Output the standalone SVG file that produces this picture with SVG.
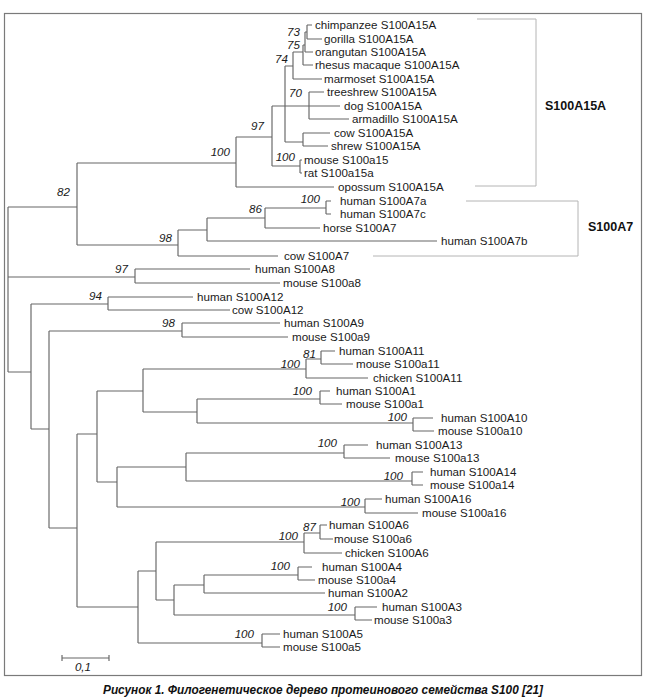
<svg xmlns="http://www.w3.org/2000/svg" width="658" height="700" viewBox="0 0 658 700">
<style>
.br{fill:none;stroke:#666;stroke-width:1.15}
.bk{fill:none;stroke:#b4b4b4;stroke-width:1}
.lf{font-family:"Liberation Sans",Arial,sans-serif;font-size:11.6px;fill:#1a1a1a}
.bs{font-family:"Liberation Sans",Arial,sans-serif;font-size:11.6px;font-style:italic;fill:#1a1a1a;text-anchor:end}
.gl{font-family:"Liberation Sans",Arial,sans-serif;font-size:12.5px;font-weight:bold;fill:#111}
.cap{font-family:"Liberation Sans",Arial,sans-serif;font-size:13px;font-weight:bold;font-style:italic;fill:#111}
</style>
<rect x="0" y="0" width="658" height="700" fill="#fff"/>
<rect x="4.5" y="13.5" width="637" height="662" fill="none" stroke="#7a7a7a" stroke-width="1.2"/>
<g id="connectors">
<path class="br" d="M8,207V372 M8,207H77 M8,277H135 M8,372H31
M77,163V245 M77,163H236 M77,245H178
M236,137V187 M236,137H272 M236,187H334
M272,106V166 M272,106H285 M272,166H300
M300,160V173 M300,160H302 M300,173H302
M285,66V142 M285,66H293 M285,106H309 M285,142H303
M293,52V79 M293,52H303 M293,79H322
M303,45V65 M303,45H305 M303,65H313
M305,32V52 M305,32H307 M305,52H313
M307,25V39 M307,25H312 M307,39H322
M309,92V119 M309,92H324 M309,106H340 M309,119H349
M303,133V146 M303,133H330 M303,146H328
M178,230V256 M178,230H207 M178,256H278
M207,218V241 M207,218H265 M207,241H437
M265,208V228 M265,208H326 M265,228H320
M326,201V214 M326,201H331 M326,214H331
M135,269V283 M135,269H250 M135,283H280
M31,304V429 M31,304H108 M31,429H49
M108,297V310 M108,297H193 M108,310H230
M49,331V528 M49,331H182 M49,528H77
M182,323V337 M182,323H280 M182,337H288
M77,434V607 M77,434H97 M77,607H138
M97,391V482 M97,391H143 M97,482H117
M143,369V412 M143,369H306 M143,412H197
M306,359V378 M306,359H321 M306,378H368
M321,351V364 M321,351H335 M321,364H353
M197,399V423 M197,399H320 M197,423H413
M320,391V404 M320,391H330 M320,404H342
M413,418V431 M413,418H433 M413,431H434
M117,467V507 M117,467H186 M117,507H365
M186,453V481 M186,453H344 M186,481H412
M344,445V458 M344,445H368 M344,458H390
M412,472V485 M412,472H423 M412,485H423
M365,499V513 M365,499H382 M365,513H418
M138,571V643 M138,571H156 M138,643H262
M156,542V600 M156,542H304 M156,600H174
M304,533V553 M304,533H320 M304,553H342
M320,525V539 M320,525H327 M320,539H333
M174,585V615 M174,585H204 M174,615H355
M204,575V593 M204,575H298 M204,593H325
M298,567V580 M298,567H312 M298,580H315
M355,607V620 M355,607H377 M355,620H372
M262,634V647 M262,634H280 M262,647H280"/>
<path class="bk" d="M477,19H536V186H475 M466,201H578V256H373"/>
<path class="br" d="M62,658H109 M62,655V661 M109,655V661"/>
</g>
<g id="leaves" class="lf">
<g id="l0"><text x="315" y="29">chimpanzee S100A15A</text></g>
<g id="l1"><text x="324" y="43">gorilla S100A15A</text></g>
<g id="l2"><text x="315" y="56">orangutan S100A15A</text></g>
<g id="l3"><text x="315" y="69">rhesus macaque S100A15A</text></g>
<g id="l4"><text x="324" y="83">marmoset S100A15A</text></g>
<g id="l5"><text x="327" y="96">treeshrew S100A15A</text></g>
<g id="l6"><text x="344" y="110">dog S100A15A</text></g>
<g id="l7"><text x="352" y="123">armadillo S100A15A</text></g>
<g id="l8"><text x="334" y="137">cow S100A15A</text></g>
<g id="l9"><text x="331" y="150">shrew S100A15A</text></g>
<g id="l10"><text x="304" y="164">mouse S100a15</text></g>
<g id="l11"><text x="304" y="177">rat S100a15a</text></g>
<g id="l12"><text x="338" y="191">opossum S100A15A</text></g>
<g id="l13"><text x="340" y="205">human S100A7a</text></g>
<g id="l14"><text x="340" y="218">human S100A7c</text></g>
<g id="l15"><text x="323" y="232">horse S100A7</text></g>
<g id="l16"><text x="441" y="245">human S100A7b</text></g>
<g id="l17"><text x="284" y="260">cow S100A7</text></g>
<g id="l18"><text x="255" y="273">human S100A8</text></g>
<g id="l19"><text x="283" y="287">mouse S100a8</text></g>
<g id="l20"><text x="197" y="301">human S100A12</text></g>
<g id="l21"><text x="232" y="314">cow S100A12</text></g>
<g id="l22"><text x="284" y="327">human S100A9</text></g>
<g id="l23"><text x="292" y="341">mouse S100a9</text></g>
<g id="l24"><text x="339" y="355">human S100A11</text></g>
<g id="l25"><text x="356" y="368">mouse S100a11</text></g>
<g id="l26"><text x="373" y="382">chicken S100A11</text></g>
<g id="l27"><text x="336" y="395">human S100A1</text></g>
<g id="l28"><text x="346" y="408">mouse S100a1</text></g>
<g id="l29"><text x="441" y="422">human S100A10</text></g>
<g id="l30"><text x="438" y="435">mouse S100a10</text></g>
<g id="l31"><text x="376" y="449">human S100A13</text></g>
<g id="l32"><text x="395" y="462">mouse S100a13</text></g>
<g id="l33"><text x="430" y="476">human S100A14</text></g>
<g id="l34"><text x="430" y="489">mouse S100a14</text></g>
<g id="l35"><text x="385" y="503">human S100A16</text></g>
<g id="l36"><text x="422" y="517">mouse S100a16</text></g>
<g id="l37"><text x="329" y="529">human S100A6</text></g>
<g id="l38"><text x="334" y="543">mouse S100a6</text></g>
<g id="l39"><text x="345" y="557">chicken S100A6</text></g>
<g id="l40"><text x="322" y="571">human S100A4</text></g>
<g id="l41"><text x="318" y="584">mouse S100a4</text></g>
<g id="l42"><text x="328" y="597">human S100A2</text></g>
<g id="l43"><text x="382" y="611">human S100A3</text></g>
<g id="l44"><text x="374" y="624">mouse S100a3</text></g>
<g id="l45"><text x="283" y="638">human S100A5</text></g>
<g id="l46"><text x="283" y="651">mouse S100a5</text></g>
</g>
<g id="bootstrap" class="bs">
<g id="n73"><text x="300" y="36">73</text></g>
<g id="n75"><text x="300" y="49">75</text></g>
<g id="n74"><text x="288" y="63">74</text></g>
<g id="n70"><text x="302" y="97">70</text></g>
<g id="n97a"><text x="264" y="130">97</text></g>
<g id="n100mr"><text x="295" y="161">100</text></g>
<g id="n100a15"><text x="230" y="156">100</text></g>
<g id="n82"><text x="70" y="196">82</text></g>
<g id="n100a7"><text x="320" y="203">100</text></g>
<g id="n86"><text x="262" y="213">86</text></g>
<g id="n98a7"><text x="172" y="242">98</text></g>
<g id="n97a8"><text x="128" y="273">97</text></g>
<g id="n94"><text x="102" y="300">94</text></g>
<g id="n98a9"><text x="175" y="327">98</text></g>
<g id="n81"><text x="316" y="358">81</text></g>
<g id="n100a11"><text x="300" y="368">100</text></g>
<g id="n100a1"><text x="312" y="395">100</text></g>
<g id="n100a10"><text x="407" y="421">100</text></g>
<g id="n100a13"><text x="337" y="447">100</text></g>
<g id="n100a14"><text x="403" y="480">100</text></g>
<g id="n100a16"><text x="360" y="506">100</text></g>
<g id="n87"><text x="316" y="531">87</text></g>
<g id="n100a6"><text x="298" y="540">100</text></g>
<g id="n100a4"><text x="290" y="570">100</text></g>
<g id="n100a3"><text x="347" y="611">100</text></g>
<g id="n100a5"><text x="254" y="638">100</text></g>
</g>
<g id="groupS100A15A"><text class="gl" x="545" y="110">S100A15A</text></g>
<g id="groupS100A7"><text class="gl" x="588" y="231">S100A7</text></g>
<g id="scale"><text class="bs" x="91" y="671">0,1</text></g>
<g id="caption"><text class="cap" x="103" y="694" textLength="440" lengthAdjust="spacingAndGlyphs">Рисунок 1. Филогенетическое дерево протеинового семейства S100 [21]</text></g>
</svg>
